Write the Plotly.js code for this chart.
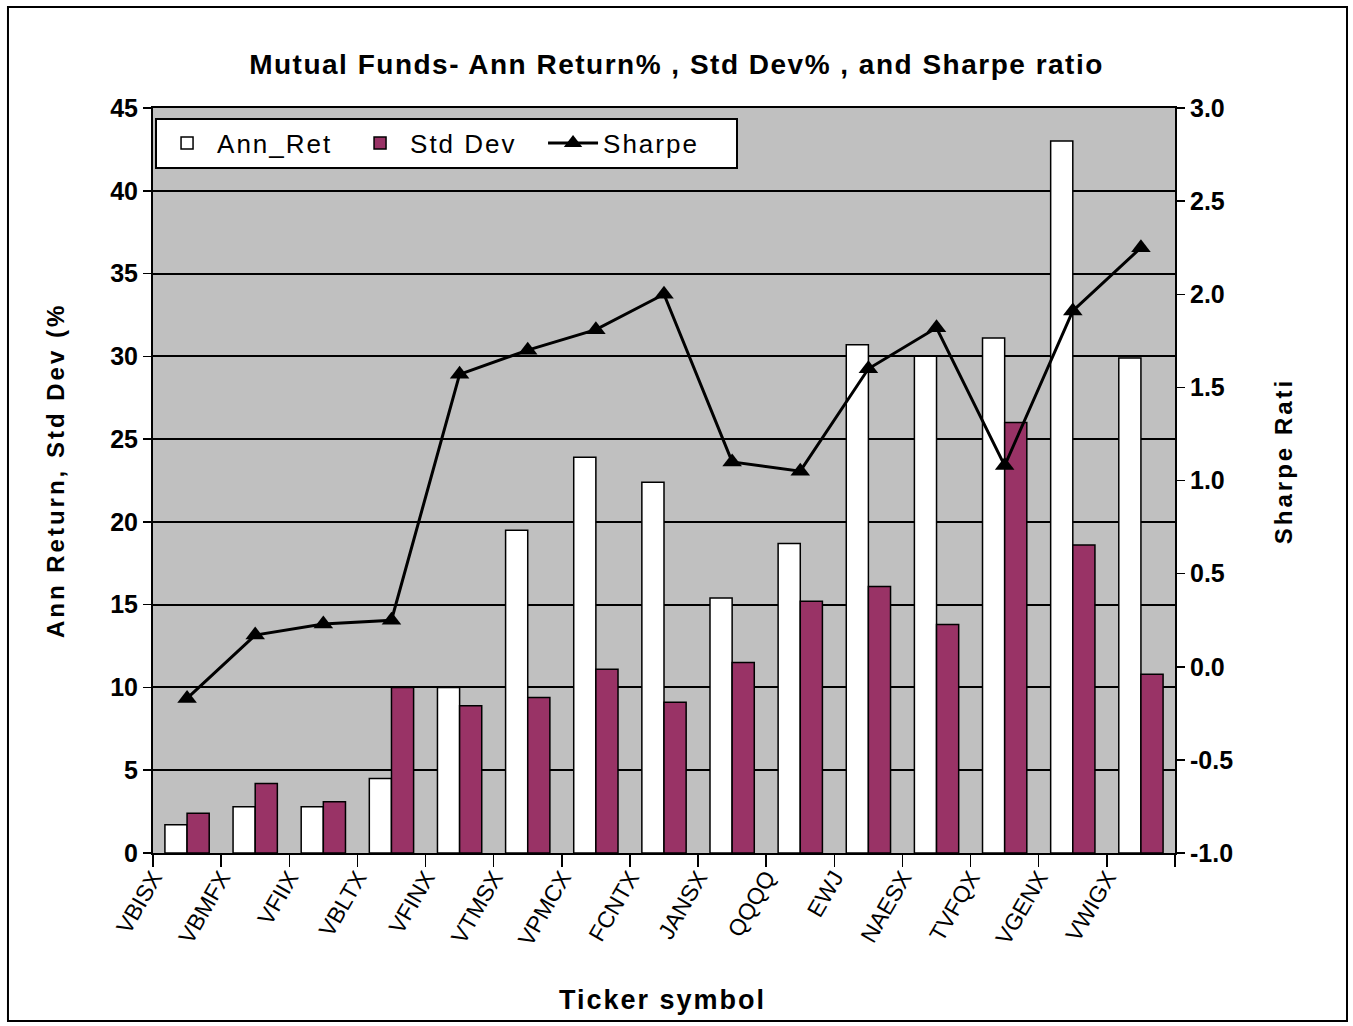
<!DOCTYPE html>
<html>
<head>
<meta charset="utf-8">
<script src="https://cdn.plot.ly/plotly-3.0.1.min.js"></script>
<style>
html,body{margin:0;padding:0;background:#fff;}
#chart{width:1353px;height:1026px;}
</style>
</head>
<body>
<div id="chart"></div>
<script>
const tickers = ["VBISX","VBMFX","VFIIX","VBLTX","VFINX","VTMSX","VPMCX","FCNTX","JANSX","QQQQ","EWJ","NAESX","TVFQX","VGENX","VWIGX"];
const annRet = [1.7, 2.8, 2.8, 4.5, 10.0, 19.5, 23.9, 22.4, 15.4, 18.7, 30.7, 30.0, 31.1, 43.0, 29.9];
const stdDev = [2.4, 4.2, 3.1, 10.0, 8.9, 9.4, 11.1, 9.1, 11.5, 15.2, 16.1, 13.8, 26.0, 18.6, 10.8];
const sharpe = [-0.17, 0.17, 0.23, 0.25, 1.57, 1.70, 1.81, 2.00, 1.10, 1.05, 1.60, 1.82, 1.08, 1.91, 2.25];
const sharpeTickVals = [-1.0, -0.5, 0.0, 0.5, 1.0, 1.5, 2.0, 2.5, 3.0];
const sharpeTickText = ["-1.0", "-0.5", "0.0", "0.5", "1.0", "1.5", "2.0", "2.5", "3.0"];

const FONT = "Liberation Sans, Arial, sans-serif";
function spaced(t, px){ return '<span style="letter-spacing:' + px + 'px">' + t + '</span>'; }

const traces = [
  {type:"bar", name:spaced("Ann_Ret", 2), x:tickers, y:annRet,
   marker:{color:"#ffffff", line:{color:"#000000", width:1.5}}},
  {type:"bar", name:spaced("Std Dev", 2), x:tickers, y:stdDev,
   marker:{color:"#993366", line:{color:"#000000", width:1.5}}},
  {type:"scatter", mode:"lines+markers", name:spaced("Sharpe", 2), x:tickers, y:sharpe, yaxis:"y2",
   line:{color:"#000000", width:3},
   marker:{symbol:"triangle-up", size:17, color:"#000000"}}
];

const layout = {
  width:1353, height:1026,
  margin:{l:153, r:178, t:108, b:173},
  paper_bgcolor:"#ffffff",
  plot_bgcolor:"#c0c0c0",
  barmode:"group",
  bargap:0.35, bargroupgap:0,
  showlegend:true,
  title:{text:spaced("Mutual Funds- Ann Return% , Std Dev% , and Sharpe ratio", 1.5),
    font:{family:FONT, size:28, color:"#000", weight:"bold"},
    xref:"container", x:0.5, xanchor:"center", yref:"container", y:0.937, yanchor:"middle"},
  legend:{orientation:"h", x:0.002, y:0.987, xanchor:"left", yanchor:"top",
    bgcolor:"#ffffff", bordercolor:"#000000", borderwidth:2,
    font:{family:FONT, size:26, color:"#000"}, itemwidth:50, entrywidth:128, tracegroupgap:0},
  xaxis:{type:"category", tickson:"boundaries", ticks:"outside", ticklen:12, tickwidth:1.5, tickcolor:"#000",
    tickangle:-60, ticklabelshift:-34,
    tickfont:{family:FONT, size:23, color:"#000"},
    showline:true, linecolor:"#000", linewidth:2, mirror:true, showgrid:false, zeroline:false,
    range:[-0.5,14.5]},
  yaxis:{range:[0,45], dtick:5, tick0:0, ticks:"outside", ticklen:8, tickwidth:1.5, tickcolor:"#000",
    tickfont:{family:FONT, size:25, color:"#000", weight:"bold"},
    showline:true, linecolor:"#000", linewidth:2, showgrid:true, gridcolor:"#000", gridwidth:2,
    zeroline:false},
  yaxis2:{range:[-1,3], overlaying:"y", side:"right", tickmode:"array",
    tickvals:sharpeTickVals, ticktext:sharpeTickText,
    ticks:"outside", ticklen:8, tickwidth:1.5, tickcolor:"#000",
    tickfont:{family:FONT, size:25, color:"#000", weight:"bold"},
    showline:true, linecolor:"#000", linewidth:2, showgrid:false, zeroline:false},
  annotations:[
    {text:spaced("Ann Return, Std Dev (%", 3), xref:"paper", yref:"paper", x:-0.0959, y:0.514,
     textangle:-90, showarrow:false, xanchor:"center", yanchor:"middle",
     font:{family:FONT, size:24, color:"#000", weight:"bold"}},
    {text:spaced("Sharpe Rati", 3), xref:"paper", yref:"paper", x:1.1057, y:0.526,
     textangle:-90, showarrow:false, xanchor:"center", yanchor:"middle",
     font:{family:FONT, size:24, color:"#000", weight:"bold"}},
    {text:spaced("Ticker symbol", 2), xref:"paper", yref:"paper", x:0.499, y:-0.197,
     showarrow:false, xanchor:"center", yanchor:"middle",
     font:{family:FONT, size:27, color:"#000", weight:"bold"}}
  ],
  shapes:[
    {type:"rect", xref:"paper", yref:"paper", x0:-0.1419, x1:1.1683, y0:-0.2255, y1:1.1356,
     line:{color:"#000", width:2}, fillcolor:"rgba(0,0,0,0)", layer:"below"}
  ]
};

Plotly.newPlot("chart", traces, layout, {displayModeBar:false, staticPlot:true});
</script>
</body>
</html>
